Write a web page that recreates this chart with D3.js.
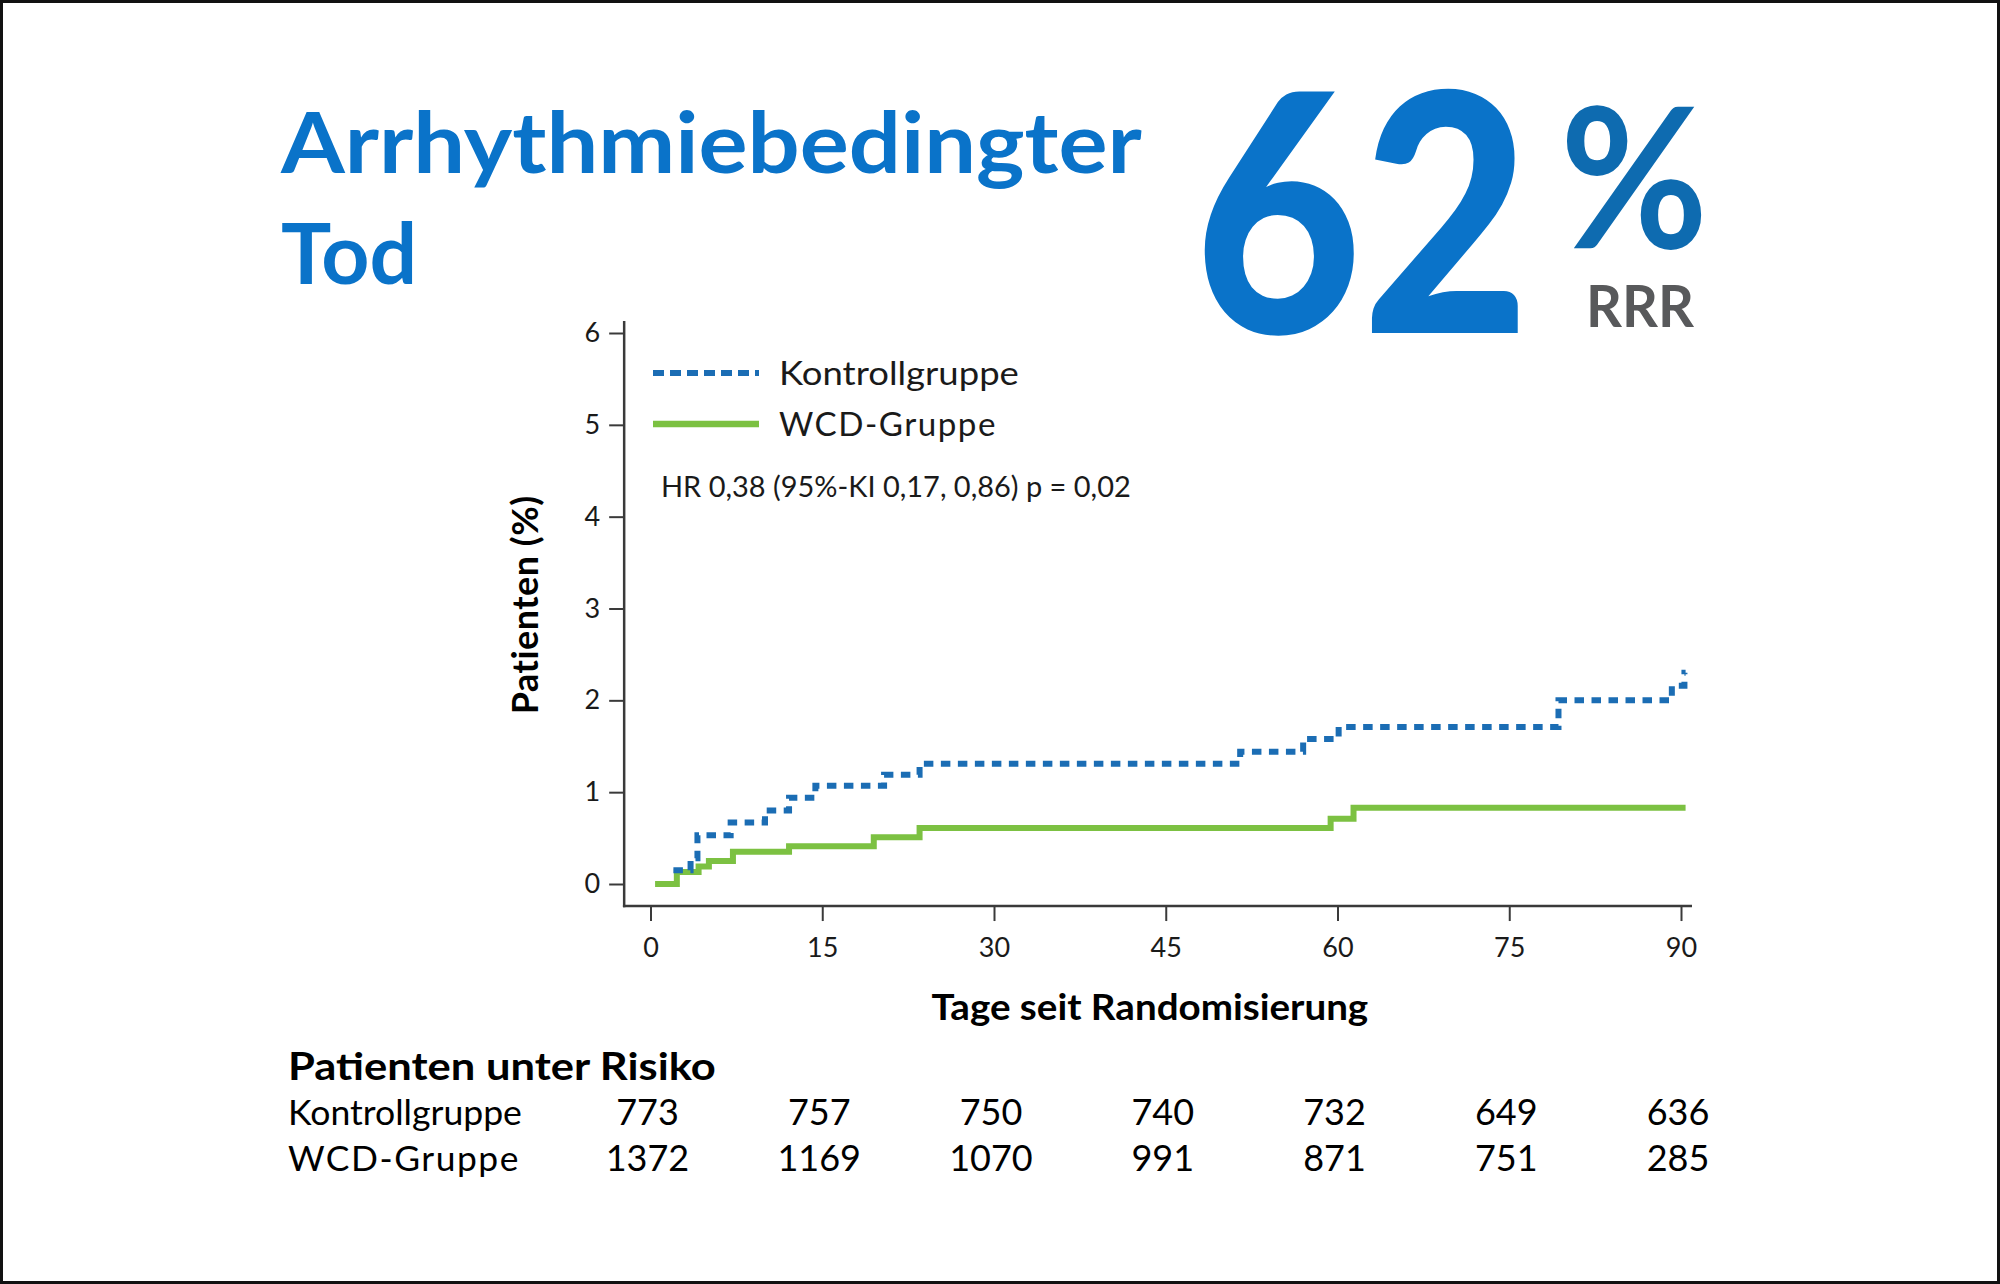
<!DOCTYPE html>
<html>
<head>
<meta charset="utf-8">
<script src="https://cdn.jsdelivr.net/npm/d3@7"></script>
<style>
  html, body { margin: 0; padding: 0; background: #fff; }
  svg { display: block; }
  text { font-family: Lato, "Open Sans", sans-serif; }
</style>
</head>
<body>
<svg id="chart" width="2000" height="1284"></svg>
<script>
// ---- data ----
const kontrollDays = [2.0, 3.5, 4.1, 7.0, 10.0, 12.1, 14.4, 20.4, 23.5, 51.5, 57.0, 60.1, 79.3, 89.2, 90.3, 90.4];
const kontrollVals = [0.15, 0.28, 0.53, 0.67, 0.80, 0.94, 1.07, 1.19, 1.31, 1.44, 1.58, 1.71, 2.00, 2.16, 2.30, 2.30];
const wcdDays = [0.4, 2.3, 4.2, 5.1, 7.2, 12.1, 19.5, 23.5, 59.4, 61.4, 90.4];
const wcdVals = [0, 0.13, 0.19, 0.25, 0.35, 0.41, 0.51, 0.61, 0.71, 0.83, 0.83];
const xTicks = [0, 15, 30, 45, 60, 75, 90];
const yTicks = [0, 1, 2, 3, 4, 5, 6];
const seriesNames = ["Kontrollgruppe", "WCD-Gruppe"];
const riskKontroll = [773, 757, 750, 740, 732, 649, 636];
const riskWcd = [1372, 1169, 1070, 991, 871, 751, 285];
const titleLines = ["Arrhythmiebedingter", "Tod"];
const bigValue = "62";
const statText = "HR 0,38 (95%-KI 0,17, 0,86) p = 0,02";

// ---- colours ----
const blue = "#1b6db4";
const green = "#7cc142";
const titleBlue = "#0a73c9";
const axisCol = "#3a3a3a";
const textCol = "#1a1a1a";

const svg = d3.select("#chart");
svg.append("rect").attr("x", 1.5).attr("y", 1.5).attr("width", 1997).attr("height", 1281)
  .attr("fill", "#fff").attr("stroke", "#111").attr("stroke-width", 3);

const x = d3.scaleLinear().domain([0, 90]).range([650.5, 1681]);
const y = d3.scaleLinear().domain([0, 6]).range([884, 333]);

// text stretched horizontally to a given width via transform
function fitted(parent, tx, ty, str, width, attrs, anchor) {
  const t = parent.append("text").attr("x", 0).attr("y", 0).text(str);
  Object.entries(attrs).forEach(([k, v]) => t.attr(k, v));
  const w = t.node().getComputedTextLength();
  const k = width / w;
  const shift = anchor === "middle" ? -width / 2 : 0;
  t.attr("transform", `translate(${tx + shift},${ty}) scale(${k},1)`);
  return t;
}

// ---- titles ----
fitted(svg, 281, 173, titleLines[0], 861, { fill: titleBlue, "font-size": 84, "font-weight": 700 });
svg.append("text").attr("x", 281).attr("y", 284)
  .attr("fill", titleBlue).attr("font-size", 84).attr("font-weight", 700).text(titleLines[1]);

fitted(svg, 1194, 333, bigValue, 336, { fill: titleBlue, "font-size": 333, "font-weight": 900 });
const pct = svg.append("text").attr("font-weight", 700);
pct.append("tspan").attr("x", 1560).attr("y", 248)
  .attr("fill", "#0e6bb0").attr("font-size", 196)
  .attr("textLength", 148).attr("lengthAdjust", "spacingAndGlyphs").text("%");
pct.append("tspan").attr("x", 1586).attr("y", 327)
  .attr("fill", "#58595b").attr("font-size", 58)
  .attr("textLength", 108).attr("lengthAdjust", "spacingAndGlyphs").text("RRR");

// ---- axes ----
const yAxisX = x(-2.3);
const xAxisY = y(-0.24);

const gy = svg.append("g").attr("transform", `translate(${yAxisX},0)`)
  .call(d3.axisLeft(y).tickValues(yTicks).tickSize(15).tickPadding(9).tickFormat(d3.format("d")));
gy.select(".domain").remove();
gy.selectAll(".tick line").attr("stroke", axisCol).attr("stroke-width", 2);
gy.selectAll(".tick text").attr("fill", textCol).attr("font-size", 27).attr("font-family", "Lato, sans-serif");

const gx = svg.append("g").attr("transform", `translate(0,${xAxisY})`)
  .call(d3.axisBottom(x).tickValues(xTicks).tickSize(15).tickPadding(17).tickFormat(d3.format("d")));
gx.select(".domain").remove();
gx.selectAll(".tick line").attr("stroke", axisCol).attr("stroke-width", 2);
gx.selectAll(".tick text").attr("fill", textCol).attr("font-size", 27).attr("font-family", "Lato, sans-serif");

svg.append("line").attr("x1", yAxisX).attr("x2", yAxisX).attr("y1", y(6.13)).attr("y2", xAxisY + 1.25)
  .attr("stroke", axisCol).attr("stroke-width", 2.5);
svg.append("line").attr("x1", yAxisX - 1.25).attr("x2", x(90.96)).attr("y1", xAxisY).attr("y2", xAxisY)
  .attr("stroke", axisCol).attr("stroke-width", 2.5);

svg.append("text").attr("transform", `translate(538,${y(3.04)})rotate(-90)`)
  .attr("text-anchor", "middle").attr("fill", "#000")
  .attr("font-size", 36).attr("font-weight", 700).attr("letter-spacing", 0.5)
  .text("Patienten (%)");
fitted(svg, 1150, 1020, "Tage seit Randomisierung", 437,
  { fill: "#000", "font-size": 37, "font-weight": 700 }, "middle");

// ---- lines ----
const line = d3.line().curve(d3.curveStepAfter).x(d => x(d[0])).y(d => y(d[1]));
const wcdData = wcdDays.map((d, i) => [d, wcdVals[i]]);
const kontrollData = kontrollDays.map((d, i) => [d, kontrollVals[i]]);

svg.append("path").datum(wcdData).attr("d", line)
  .attr("fill", "none").attr("stroke", green).attr("stroke-width", 6);
svg.append("path").datum(kontrollData).attr("d", line)
  .attr("fill", "none").attr("stroke", blue).attr("stroke-width", 6)
  .attr("stroke-dasharray", "9.5,7.5");

// ---- legend ----
const legend = svg.append("g");
seriesNames.forEach((name, i) => {
  const ly = 373 + i * 51;
  legend.append("line").attr("x1", 653).attr("x2", 759).attr("y1", ly).attr("y2", ly)
    .attr("stroke", i === 0 ? blue : green)
    .attr("stroke-width", i === 0 ? 6 : 6.5)
    .attr("stroke-dasharray", i === 0 ? "11,6" : null);
  fitted(legend, 779, ly + 12, name, i === 0 ? 240 : 218,
    { fill: textCol, "font-size": 33, "letter-spacing": i === 0 ? 0 : 1.5 });
});
fitted(svg, 661, 497, statText, 470, { fill: textCol, "font-size": 28 });

// ---- risk table ----
fitted(svg, 288, 1080, "Patienten unter Risiko", 428, { fill: "#000", "font-size": 38, "font-weight": 700 });
const rows = [riskKontroll, riskWcd];
rows.forEach((vals, r) => {
  const by = 1125 + r * 46;
  fitted(svg, 288, by, seriesNames[r], r === 0 ? 234 : 232,
    { fill: "#000", "font-size": 35, "letter-spacing": r === 0 ? 0 : 1.5 });
  svg.selectAll(null).data(vals).join("text")
    .attr("x", (d, i) => x(xTicks[i]) - 3).attr("y", by)
    .attr("text-anchor", "middle").attr("fill", "#000")
    .attr("font-size", 36).text(d => d);
});
</script>
</body>
</html>
